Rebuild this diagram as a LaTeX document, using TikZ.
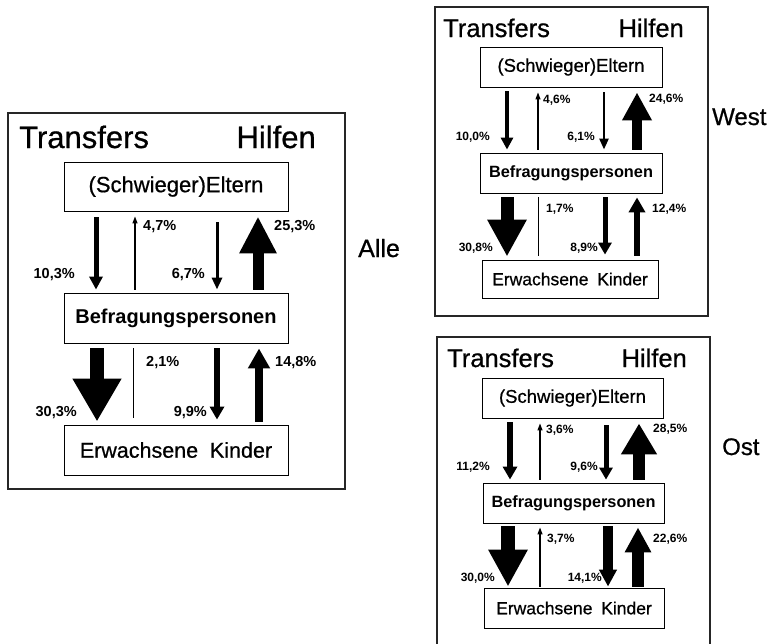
\documentclass[tikz,border=0pt]{standalone}
\usepackage{fontspec}
\setmainfont{Liberation Sans}
\newfontfamily\medfont[FakeBold=0.7]{Liberation Sans}
\usetikzlibrary{arrows.meta,calc}
\tikzset{
  panelframe/.style={draw=black!85, line width=1.1pt},
  box/.style={draw, line width=0.9pt, inner sep=0pt, fill=white},
  blk/.style n args={3}{line width=#1, draw=black, -{Triangle[width=#2,length=#3]}},
  thinarr/.style={line width=1.2pt, -{Triangle[width=5pt,length=7pt]}},
  bare/.style={line width=1pt},
  ttl/.style={inner sep=0pt, font=\medfont\fontsize{#1}{#1}\selectfont},
  pct/.style={inner sep=0pt, font=\bfseries\fontsize{#1}{#1}\selectfont},
}
\begin{document}
\begin{tikzpicture}[x=1pt,y=-1pt]
\useasboundingbox (0,0) rectangle (771,643);

% ================= Alle =================
\draw[panelframe] (8,113) rectangle (345,489);
\node[ttl=31, anchor=base west] (T1) at (19,148) {Transfers};
\node[ttl=31, anchor=base east] (H1) at (316,148) {Hilfen};
\node[box, minimum width=224pt, minimum height=49pt, font=\medfont\fontsize{22}{24}\selectfont] (E1) at (176,186.5) {(Schwieger)Eltern};
\node[box, minimum width=224pt, minimum height=50pt, font=\bfseries\fontsize{20}{22}\selectfont] (B1) at (176,318) {Befragungspersonen};
\node[box, minimum width=224pt, minimum height=50pt, font=\medfont\fontsize{21.5}{24}\selectfont] (K1) at (176,450) {Erwachsene\hspace{0.55em}Kinder};

\draw[blk={5pt}{13pt}{13pt}] ($(E1.south -| 96,0)+(0,6)$) -- ($(B1.north -| 96,0)+(0,-3)$);
\draw[thinarr] ($(B1.north -| 135,0)+(0,-3)$) -- ($(E1.south -| 135,0)+(0,5)$);
\draw[blk={3pt}{10pt}{12pt}] ($(E1.south -| 217,0)+(0,11)$) -- ($(B1.north -| 217,0)+(0,-3)$);
\draw[blk={11pt}{35pt}{37pt}] ($(B1.north -| 258,0)+(0,-3)$) -- ($(E1.south -| 258,0)+(0,5)$);
\draw[blk={14pt}{46pt}{43pt}] ($(B1.south -| 97,0)+(0,5)$) -- ($(K1.north -| 97,0)+(0,-3)$);
\draw[bare] ($(K1.north -| 133,0)+(0,-7)$) -- ($(B1.south -| 133,0)+(0,5)$);
\draw[blk={6pt}{14pt}{13pt}] ($(B1.south -| 217,0)+(0,5)$) -- ($(K1.north -| 217,0)+(0,-5)$);
\draw[blk={8pt}{21pt}{20pt}] ($(K1.north -| 259,0)+(0,-3)$) -- ($(B1.south -| 259,0)+(0,5)$);

\node[pct=14.5, anchor=west] (p1a) at (143,227) {4,7\%};
\node[pct=14.5, anchor=east] (p1b) at (75,275) {10,3\%};
\node[pct=14.5, anchor=east] (p1c) at (205,275) {6,7\%};
\node[pct=14.5, anchor=west] (p1d) at (274,227) {25,3\%};
\node[pct=14.5, anchor=east] (p1e) at (77,413) {30,3\%};
\node[pct=14.5, anchor=west] (p1f) at (146,363) {2,1\%};
\node[pct=14.5, anchor=east] (p1g) at (207,413) {9,9\%};
\node[pct=14.5, anchor=west] (p1h) at (275,363) {14,8\%};
\node[ttl=25, anchor=base west] (L1) at (358,257) {Alle};

% ================= West =================
\draw[panelframe] (435,7) rectangle (708,316);
\node[ttl=25.5, anchor=base west] (T2) at (443,37) {Transfers};
\node[ttl=25.5, anchor=base east] (H2) at (684,37) {Hilfen};
\node[box, minimum width=182pt, minimum height=40pt, font=\medfont\fontsize{18.5}{20}\selectfont] (E2) at (571,67) {(Schwieger)Eltern};
\node[box, minimum width=182pt, minimum height=40pt, font=\bfseries\fontsize{16.3}{18}\selectfont] (B2) at (571,173) {Befragungspersonen};
\node[box, minimum width=176pt, minimum height=38pt, font=\medfont\fontsize{17.5}{19}\selectfont] (K2) at (570,279) {Erwachsene\hspace{0.5em}Kinder};

\draw[blk={4.5pt}{12pt}{12pt}] ($(E2.south -| 507,0)+(0,4)$) -- ($(B2.north -| 507,0)+(0,-3)$);
\draw[thinarr] ($(B2.north -| 538,0)+(0,-3)$) -- ($(E2.south -| 538,0)+(0,5)$);
\draw[blk={2.5pt}{9pt}{11pt}] ($(E2.south -| 604,0)+(0,5)$) -- ($(B2.north -| 604,0)+(0,-3)$);
\draw[blk={10pt}{28pt}{28pt}] ($(B2.north -| 637,0)+(0,-3)$) -- ($(E2.south -| 637,0)+(0,5)$);
\draw[blk={13pt}{37pt}{37pt}] ($(B2.south -| 507,0)+(0,4)$) -- ($(K2.north -| 507,0)+(0,-3)$);
\draw[bare] ($(K2.north -| 538,0)+(0,-4)$) -- ($(B2.south -| 538,0)+(0,4)$);
\draw[blk={5pt}{13pt}{12pt}] ($(B2.south -| 605,0)+(0,4)$) -- ($(K2.north -| 605,0)+(0,-5)$);
\draw[blk={6pt}{16pt}{15pt}] ($(K2.north -| 637,0)+(0,-4)$) -- ($(B2.south -| 637,0)+(0,4)$);

\node[pct=12, anchor=west] (p2a) at (543,100) {4,6\%};
\node[pct=12, anchor=east] (p2b) at (490,137) {10,0\%};
\node[pct=12, anchor=east] (p2c) at (595,137) {6,1\%};
\node[pct=12, anchor=west] (p2d) at (649,99) {24,6\%};
\node[pct=12, anchor=east] (p2e) at (493,248) {30,8\%};
\node[pct=12, anchor=west] (p2f) at (546,209) {1,7\%};
\node[pct=12, anchor=east] (p2g) at (598,248) {8,9\%};
\node[pct=12, anchor=west] (p2h) at (652,209) {12,4\%};
\node[ttl=24, anchor=base west] (L2) at (712,125) {West};

% ================= Ost =================
\draw[panelframe] (437,650) -- (437,337) -- (710,337) -- (710,650);
\node[ttl=25.5, anchor=base west] (T3) at (447,367) {Transfers};
\node[ttl=25.5, anchor=base east] (H3) at (687,367) {Hilfen};
\node[box, minimum width=181pt, minimum height=40pt, font=\medfont\fontsize{18.5}{20}\selectfont] (E3) at (572.5,398) {(Schwieger)Eltern};
\node[box, minimum width=181pt, minimum height=40pt, font=\bfseries\fontsize{16.3}{18}\selectfont] (B3) at (573.5,503) {Befragungspersonen};
\node[box, minimum width=180pt, minimum height=40pt, font=\medfont\fontsize{17.5}{19}\selectfont] (K3) at (574,608) {Erwachsene\hspace{0.5em}Kinder};

\draw[blk={5.5pt}{14pt}{13pt}] ($(E3.south -| 510,0)+(0,4)$) -- ($(B3.north -| 510,0)+(0,-3)$);
\draw[thinarr] ($(B3.north -| 540,0)+(0,-3)$) -- ($(E3.south -| 540,0)+(0,5)$);
\draw[blk={5pt}{13pt}{12pt}] ($(E3.south -| 606,0)+(0,7)$) -- ($(B3.north -| 606,0)+(0,-3)$);
\draw[blk={12pt}{34pt}{31pt}] ($(B3.north -| 639,0)+(0,-3)$) -- ($(E3.south -| 639,0)+(0,5)$);
\draw[blk={14pt}{37pt}{37pt}] ($(B3.south -| 508,0)+(0,3)$) -- ($(K3.north -| 508,0)+(0,-1)$);
\draw[thinarr] ($(K3.north -| 540,0)+(0,-1)$) -- ($(B3.south -| 540,0)+(0,4)$);
\draw[blk={10pt}{17pt}{17pt}] ($(B3.south -| 608,0)+(0,3)$) -- ($(K3.north -| 608,0)+(0,-1)$);
\draw[blk={12pt}{25pt}{25pt}] ($(K3.north -| 638,0)+(0,-1)$) -- ($(B3.south -| 638,0)+(0,4)$);

\node[pct=12, anchor=west] (p3a) at (546,430) {3,6\%};
\node[pct=12, anchor=east] (p3b) at (490,467) {11,2\%};
\node[pct=12, anchor=east] (p3c) at (598,467) {9,6\%};
\node[pct=12, anchor=west] (p3d) at (653,429) {28,5\%};
\node[pct=12, anchor=east] (p3e) at (495,578) {30,0\%};
\node[pct=12, anchor=west] (p3f) at (547,539) {3,7\%};
\node[pct=12, anchor=east] (p3g) at (602,578) {14,1\%};
\node[pct=12, anchor=west] (p3h) at (653,539) {22,6\%};
\node[ttl=24, anchor=base west] (L3) at (722,455) {Ost};
\end{tikzpicture}
\end{document}
